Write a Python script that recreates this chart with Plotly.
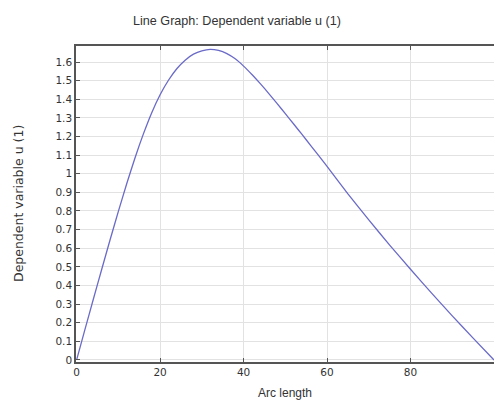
import plotly.graph_objects as go

arc_length = [0, 2, 4, 6, 8, 10, 12, 14, 16, 18, 20, 22, 24, 26, 28, 30, 32, 34, 36, 38,
              40, 42, 44, 46, 48, 50, 52, 54, 56, 58, 60, 65, 70, 75, 80, 85, 90, 95, 100]
u_values = [0, 0.164, 0.326, 0.486, 0.644, 0.798, 0.946, 1.086, 1.214, 1.328, 1.424, 1.502,
            1.564, 1.610, 1.642, 1.660, 1.668, 1.662, 1.645, 1.617, 1.578, 1.533, 1.484,
            1.432, 1.378, 1.323, 1.267, 1.211, 1.154, 1.097, 1.040, 0.892, 0.752, 0.617,
            0.487, 0.360, 0.237, 0.117, 0]

x_ticks = [0, 20, 40, 60, 80]
title_text = "Line Graph: Dependent variable u (1)"
x_label = "Arc length"
y_label = "Dependent variable u (1)"

fig = go.Figure()
fig.add_trace(go.Scatter(x=arc_length, y=u_values, mode="lines",
                         line=dict(color="#6a6ac8", width=1.3, shape="spline", smoothing=0.5),
                         showlegend=False))

axis_common = dict(showline=True, linecolor="#555555", linewidth=1.5,
                   ticks="inside", ticklen=4, tickcolor="#555555", automargin=False,
                   showgrid=True, gridcolor="#e2e2e2", gridwidth=1, zeroline=False,
                   tickfont=dict(family="DejaVu Sans", size=10.5, color="#333333"))

fig.update_layout(
    width=494, height=400,
    margin=dict(l=76, r=0, t=46, b=38, autoexpand=False),
    paper_bgcolor="white", plot_bgcolor="white",
    title=dict(text=title_text, x=237/494, xref="container", xanchor="center",
               y=1 - 21/400, yref="container", yanchor="middle",
               font=dict(family="Liberation Sans", size=12.6, color="#333333")),
    xaxis=dict(range=[-0.15, 100], tickvals=x_ticks, mirror="ticks", **axis_common),
    yaxis=dict(range=[-0.011, 1.686], tick0=0, dtick=0.1, mirror=False, **axis_common),
    annotations=[
        dict(text=x_label, xref="paper", yref="paper", x=0.5, y=(362 - 393) / 316,
             xanchor="center", yanchor="middle", showarrow=False,
             font=dict(family="Liberation Sans", size=12, color="#333333")),
        dict(text=y_label, xref="paper", yref="paper", x=(18 - 76) / 418, y=0.5,
             xanchor="center", yanchor="middle", showarrow=False, textangle=-90,
             font=dict(family="DejaVu Sans", size=12.5, color="#333333")),
    ],
)

fig.write_html("out.html", config={"displayModeBar": False},
               post_script="document.body.style.margin='0';document.body.style.overflow='hidden';")
